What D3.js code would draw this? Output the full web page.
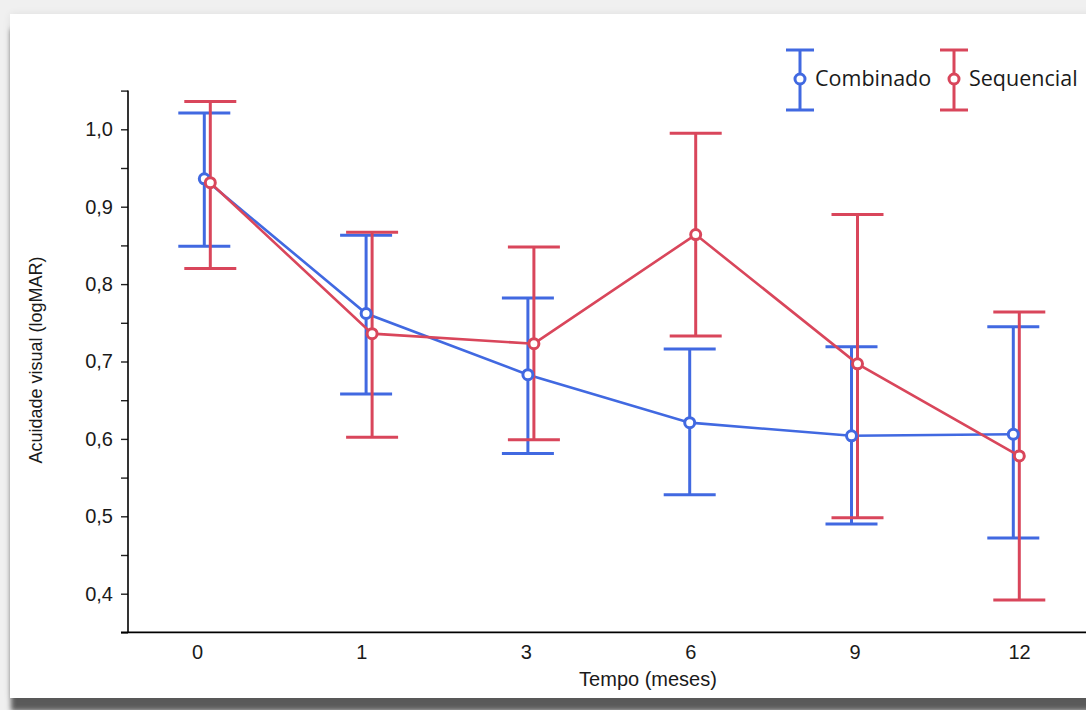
<!DOCTYPE html>
<html>
<head>
<meta charset="utf-8">
<script src="https://cdn.jsdelivr.net/npm/d3@7"></script>
<style>
  html, body { margin: 0; padding: 0; }
  body { width: 1086px; height: 710px; overflow: hidden; background: #f0f0f0; position: relative; }
  #card {
    position: absolute; left: 10px; top: 14px; width: 1100px; height: 684px;
    background: #fff;
    box-shadow: 0 0 8px rgba(0,0,0,0.07), 0 14px 5px -1px rgba(0,0,0,0.62);
  }
  #chart { position: absolute; left: 0; top: 0; }
</style>
</head>
<body>
<div id="card"></div>
<div id="chart"></div>
<script>
// time points (months)
const categories = ["0", "1", "3", "6", "9", "12"];

// Combinado: mean and 95% CI
const combinadoMean = [0.936, 0.762, 0.683, 0.621, 0.604, 0.606];
const combinadoLow  = [0.849, 0.658, 0.581, 0.528, 0.490, 0.472];
const combinadoHigh = [1.021, 0.863, 0.782, 0.716, 0.719, 0.745];

// Sequencial: mean and 95% CI
const sequencialMean = [0.931, 0.736, 0.723, 0.864, 0.697, 0.578];
const sequencialLow  = [0.820, 0.602, 0.599, 0.733, 0.498, 0.392];
const sequencialHigh = [1.036, 0.867, 0.848, 0.995, 0.890, 0.764];

const yTicks = [0.4, 0.5, 0.6, 0.7, 0.8, 0.9, 1.0];
const yMinorTicks = [0.35, 0.45, 0.55, 0.65, 0.75, 0.85, 0.95, 1.05];

const series = [
    { name: "Combinado", color: "#4169e1", mean: combinadoMean, low: combinadoLow, high: combinadoHigh, dx: -3 },
    { name: "Sequencial", color: "#d9465b", mean: sequencialMean, low: sequencialLow, high: sequencialHigh, dx: 3 }
];

const width = 1086, height = 710;
const svg = d3.select("#chart")
    .append("svg")
    .attr("width", width)
    .attr("height", height);

const axisX = 128, axisY = 632.4;

const y = d3.scaleLinear()
    .domain([0.35, 1.05])
    .range([axisY, 90.6]);

// tick labels sit slightly off the plotted positions, as in the original
const xLabel = d3.scalePoint().domain(categories).range([197, 1019]);
const x = d3.scalePoint().domain(categories).range([207.3, 1016.3]);

const tickFont = "'Liberation Sans', Arial, sans-serif";

// Y axis
const yAxis = svg.append("g")
    .attr("transform", "translate(" + axisX + ",0)")
    .call(d3.axisLeft(y).tickValues(yTicks.concat(yMinorTicks)).tickSize(7).tickPadding(8)
        .tickFormat(d => yTicks.some(t => Math.abs(t - d) < 1e-9) ? d3.format(".1f")(d).replace(".", ",") : ""));
yAxis.select(".domain").remove();
yAxis.append("line")
    .attr("x1", 0).attr("x2", 0)
    .attr("y1", y(1.05)).attr("y2", axisY)
    .attr("stroke", "#000").attr("stroke-width", 1.6);
yAxis.selectAll(".tick line").attr("stroke", "#222").attr("stroke-width", 1.4);
yAxis.selectAll(".tick text")
    .style("font-family", tickFont)
    .style("font-size", "20px")
    .style("fill", "#1a1a1a");

// X axis (labels only, no tick marks)
const xAxis = svg.append("g")
    .attr("transform", "translate(0," + axisY + ")")
    .call(d3.axisBottom(xLabel).tickSize(0).tickPadding(12));
xAxis.select(".domain").remove();
xAxis.append("line")
    .attr("x1", axisX - 7).attr("x2", width)
    .attr("y1", 0).attr("y2", 0)
    .attr("stroke", "#000").attr("stroke-width", 1.6);
xAxis.selectAll(".tick text")
    .style("font-family", tickFont)
    .style("font-size", "20px")
    .style("fill", "#1a1a1a");

// axis titles
svg.append("text")
    .attr("x", 648)
    .attr("y", 686)
    .attr("text-anchor", "middle")
    .style("font-family", tickFont)
    .style("font-size", "20px")
    .style("fill", "#1a1a1a")
    .text("Tempo (meses)");

svg.append("text")
    .attr("transform", "translate(42,360) rotate(-90)")
    .attr("text-anchor", "middle")
    .style("font-family", tickFont)
    .style("font-size", "18px")
    .style("fill", "#1a1a1a")
    .text("Acuidade visual (logMAR)");

const capHalf = 26;
const plot = svg.append("g");

// error bars and connecting lines
series.forEach(s => {
    const g = plot.append("g");
    const px = (d, i) => x(categories[i]) + s.dx;

    g.selectAll(".err")
        .data(s.mean)
        .enter()
        .append("line")
        .attr("x1", px).attr("x2", px)
        .attr("y1", (d, i) => y(s.high[i]))
        .attr("y2", (d, i) => y(s.low[i]))
        .attr("stroke", s.color).attr("stroke-width", 3);

    ["high", "low"].forEach(k => {
        g.selectAll(".cap-" + k)
            .data(s[k])
            .enter()
            .append("line")
            .attr("x1", (d, i) => px(d, i) - capHalf)
            .attr("x2", (d, i) => px(d, i) + capHalf)
            .attr("y1", d => y(d)).attr("y2", d => y(d))
            .attr("stroke", s.color).attr("stroke-width", 3);
    });

    const line = d3.line()
        .x((d, i) => px(d, i))
        .y(d => y(d));

    g.append("path")
        .datum(s.mean)
        .attr("d", line)
        .attr("fill", "none")
        .attr("stroke", s.color)
        .attr("stroke-width", 2.6);
});

// markers on top
series.forEach(s => {
    plot.append("g").selectAll("circle")
        .data(s.mean)
        .enter()
        .append("circle")
        .attr("cx", (d, i) => x(categories[i]) + s.dx)
        .attr("cy", d => y(d))
        .attr("r", 5)
        .attr("fill", "#fff")
        .attr("stroke", s.color)
        .attr("stroke-width", 3);
});

// legend
const legendX = [800, 954];
const legend = svg.append("g").attr("class", "legend");
series.forEach((s, i) => {
    const g = legend.append("g").attr("transform", "translate(" + legendX[i] + ",0)");
    g.append("line").attr("x1", 0).attr("x2", 0).attr("y1", 50).attr("y2", 110)
        .attr("stroke", s.color).attr("stroke-width", 3);
    g.append("line").attr("x1", -14).attr("x2", 14).attr("y1", 50).attr("y2", 50)
        .attr("stroke", s.color).attr("stroke-width", 3);
    g.append("line").attr("x1", -14).attr("x2", 14).attr("y1", 110).attr("y2", 110)
        .attr("stroke", s.color).attr("stroke-width", 3);
    g.append("circle").attr("cx", 0).attr("cy", 79).attr("r", 5)
        .attr("fill", "#fff").attr("stroke", s.color).attr("stroke-width", 3);
    g.append("text")
        .attr("x", 15)
        .attr("y", 86)
        .style("font-family", "'Open Sans', 'Noto Sans', sans-serif")
        .style("font-size", "21.5px")
        .style("fill", "#1a1a1a")
        .text(s.name);
});
</script>
</body>
</html>
